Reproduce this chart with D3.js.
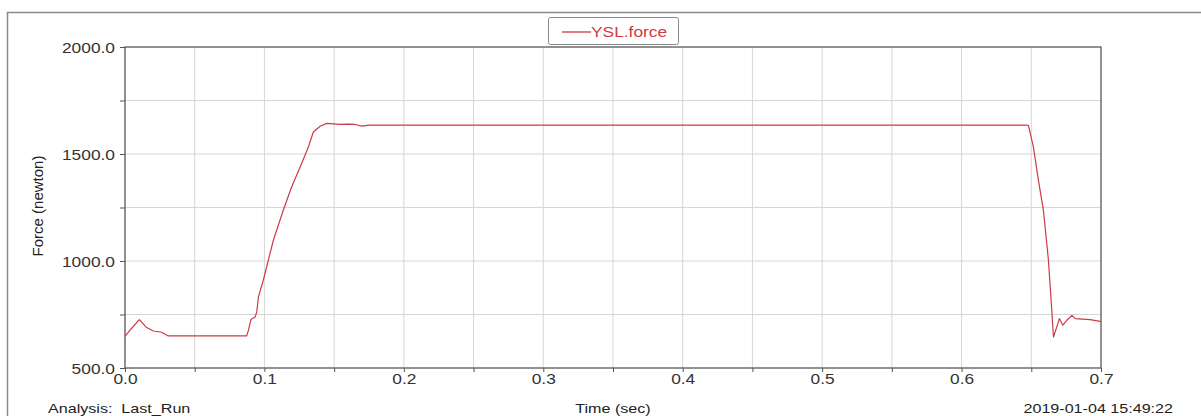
<!DOCTYPE html>
<html>
<head>
<meta charset="utf-8">
<script src="https://cdn.jsdelivr.net/npm/d3@7"></script>
<style>
  html, body { margin: 0; padding: 0; background: #fff; }
  svg { display: block; font-family: "Liberation Sans", Arial, sans-serif; }
</style>
</head>
<body>
<svg id="chart" width="1201" height="416"></svg>
<script>
// YSL.force time history (sec, newton)
const timeSec = [0.000, 0.004, 0.0103, 0.0155, 0.0203, 0.0263, 0.031, 0.050, 0.0873,
  0.0885, 0.0904, 0.0933, 0.0945, 0.0957, 0.0992, 0.1028, 0.1064, 0.1135, 0.1195,
  0.1267, 0.1315, 0.1351, 0.1399, 0.1447, 0.1542, 0.160, 0.165, 0.170, 0.175,
  0.300, 0.500, 0.6467, 0.648, 0.6515, 0.6551, 0.6587, 0.6623, 0.6647, 0.6659,
  0.6683, 0.6702, 0.6726, 0.6755, 0.6791, 0.6815, 0.6922, 0.6993, 0.700];
const forceN = [648, 680, 726, 689, 673, 667, 650, 650, 650,
  676, 728, 738, 762, 832, 910, 1004, 1097, 1237, 1346,
  1456, 1533, 1603, 1630, 1643, 1638, 1640, 1638, 1630, 1635,
  1635, 1635, 1635, 1633, 1533, 1378, 1237, 1004, 770, 645,
  692, 731, 700, 723, 746, 731, 726, 718, 715];

const xTicks = [0.0, 0.1, 0.2, 0.3, 0.4, 0.5, 0.6, 0.7];
const xMinor = [0.05, 0.15, 0.25, 0.35, 0.45, 0.55, 0.65];
const yTicks = [500, 1000, 1500, 2000];
const yMinor = [750, 1250, 1750];

const seriesName = "YSL.force";
const xTitle = "Time (sec)";
const yTitle = "Force (newton)";
const analysisLabel = "Analysis:  Last_Run";
const stampLabel = "2019-01-04 15:49:22";

// the plot's text is set in a horizontally widened face
const WIDEN = 1.24;

const svg = d3.select("#chart");
const plot = { left: 125, right: 1101, top: 47, bottom: 368 };

const x = d3.scaleLinear().domain([0, 0.7]).range([plot.left, plot.right]);
const y = d3.scaleLinear().domain([500, 2000]).range([plot.bottom, plot.top]);

function wideText(parent, px, py, str, anchor, size, fill) {
  return parent.append("text")
    .attr("transform", `translate(${px},${py}) scale(${WIDEN},1)`)
    .attr("text-anchor", anchor).attr("font-size", size).attr("fill", fill)
    .style("white-space", "pre").text(str);
}

// outer frame
svg.append("rect").attr("x", 7.5).attr("y", 12.5).attr("width", 1200).attr("height", 420)
  .attr("fill", "none").attr("stroke", "#8a8a8a").attr("stroke-width", 1.5);

// grid
const grid = svg.append("g").attr("stroke", "#d6d6d6").attr("stroke-width", 1);
xTicks.concat(xMinor).forEach(v => {
  grid.append("line").attr("x1", x(v)).attr("x2", x(v)).attr("y1", plot.top).attr("y2", plot.bottom);
});
yTicks.concat(yMinor).forEach(v => {
  grid.append("line").attr("x1", plot.left).attr("x2", plot.right).attr("y1", y(v)).attr("y2", y(v));
});

// axes
const xAxis = d3.axisBottom(x).tickValues(xTicks.concat(xMinor).sort(d3.ascending))
  .tickSize(4).tickFormat(d => xTicks.some(t => Math.abs(t - d) < 1e-9) ? d3.format(".1f")(d) : "");
const yAxis = d3.axisLeft(y).tickValues(yTicks.concat(yMinor).sort(d3.ascending))
  .tickSize(5).tickFormat(d => yTicks.includes(d) ? d3.format(".1f")(d) : "");

const gx = svg.append("g").attr("transform", `translate(0,${plot.bottom})`).call(xAxis);
const gy = svg.append("g").attr("transform", `translate(${plot.left},0)`).call(yAxis);
[gx, gy].forEach(g => {
  g.select(".domain").remove();
  g.selectAll(".tick line").attr("stroke", "#555");
  g.selectAll(".tick text").attr("fill", "#333").attr("font-size", 14)
    .attr("font-family", "'Liberation Sans', Arial, sans-serif")
    .attr("transform", `scale(${WIDEN},1)`);
});
gx.selectAll(".tick text").attr("y", 6).attr("dy", "0.71em");
gy.selectAll(".tick text").attr("x", -10 / WIDEN).attr("dy", "0.4em");

// plot frame
svg.append("rect").attr("x", plot.left).attr("y", plot.top)
  .attr("width", plot.right - plot.left).attr("height", plot.bottom - plot.top)
  .attr("fill", "none").attr("stroke", "#555").attr("stroke-width", 1.2);

// series
const line = d3.line().x((d, i) => x(timeSec[i])).y(d => y(d));
svg.append("path").datum(forceN).attr("d", line)
  .attr("fill", "none").attr("stroke", "#cc3a48").attr("stroke-width", 1.2)
  .attr("stroke-linejoin", "round");

// legend
const lg = svg.append("g");
lg.append("rect").attr("x", 548.5).attr("y", 17.5).attr("width", 130).attr("height", 27)
  .attr("rx", 2).attr("fill", "#fff").attr("stroke", "#8a8a8a").attr("stroke-width", 1);
lg.append("line").attr("x1", 562).attr("x2", 591).attr("y1", 32).attr("y2", 32)
  .attr("stroke", "#cc3a48").attr("stroke-width", 1.3);
wideText(lg, 591, 37, seriesName, "start", 14, "#d03a40");

// titles and footer labels
svg.append("text").attr("transform", `translate(43,206) rotate(-90)`)
  .attr("text-anchor", "middle").attr("font-size", 15).attr("fill", "#222").text(yTitle);
wideText(svg, (plot.left + plot.right) / 2, 413, xTitle, "middle", 13, "#222");
wideText(svg, 48, 413, analysisLabel, "start", 13, "#222");
wideText(svg, 1173, 413, stampLabel, "end", 13, "#222");
</script>
</body>
</html>
